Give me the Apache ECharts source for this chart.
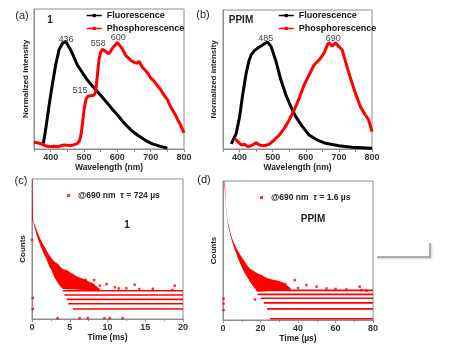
<!DOCTYPE html>
<html>
<head>
<meta charset="utf-8">
<script src="https://cdn.jsdelivr.net/npm/echarts@6/dist/echarts.min.js"></script>
<style>
  html, body { margin: 0; padding: 0; background: #fff; }
  #chart { width: 450px; height: 348px; }
</style>
</head>
<body>
<div id="chart"></div>
<script>
// (a) complex 1: [wavelength nm, normalized intensity]
const fluoA = [[378,0.05],[385,0.18],[395,0.4],[405,0.6],[415,0.78],[425,0.92],[435,0.98],[445,1.0],[450,0.99],[460,0.92],[470,0.85],[480,0.78],[495,0.71],[510,0.64],[525,0.585],[540,0.534],[555,0.48],[570,0.426],[585,0.37],[600,0.318],[615,0.26],[630,0.21],[645,0.165],[660,0.13],[675,0.1],[690,0.07],[705,0.048],[720,0.033],[735,0.02],[750,0.01]];
const phosA = [[350,0.062],[360,0.058],[370,0.05],[380,0.035],[390,0.025],[400,0.022],[410,0.026],[420,0.021],[430,0.03],[440,0.038],[450,0.034],[460,0.033],[470,0.04],[480,0.05],[487,0.08],[492,0.15],[497,0.28],[502,0.4],[507,0.47],[512,0.49],[520,0.495],[530,0.5],[535,0.53],[540,0.68],[545,0.83],[550,0.9],[555,0.925],[560,0.92],[565,0.905],[570,0.89],[575,0.885],[580,0.91],[585,0.935],[590,0.95],[595,0.97],[600,0.99],[605,0.975],[610,0.95],[615,0.93],[620,0.9],[625,0.87],[630,0.855],[640,0.825],[650,0.805],[660,0.795],[665,0.815],[670,0.8],[675,0.76],[680,0.745],[690,0.71],[700,0.66],[710,0.63],[720,0.59],[730,0.55],[740,0.5],[750,0.46],[760,0.39],[770,0.34],[780,0.28],[790,0.22],[800,0.15]];
const peaksA = [['436',446,1.021],['515',488,0.539],['558',543,0.981],['600',603,1.031]];

// (b) PPIM
const fluoB = [[375,0.047],[380,0.05],[390,0.147],[400,0.3],[410,0.52],[420,0.71],[428,0.82],[435,0.88],[445,0.92],[460,0.955],[475,0.985],[485,1.0],[495,0.96],[510,0.82],[525,0.645],[540,0.505],[555,0.396],[570,0.3],[590,0.209],[610,0.131],[635,0.084],[660,0.053],[700,0.031],[740,0.016],[800,0.006]];
const phosB = [[385,0.1],[395,0.069],[405,0.037],[415,0.045],[425,0.022],[435,0.03],[450,0.059],[460,0.037],[475,0.03],[490,0.045],[505,0.084],[520,0.131],[535,0.193],[550,0.271],[565,0.365],[580,0.474],[595,0.599],[610,0.692],[625,0.786],[640,0.832],[655,0.895],[665,0.973],[670,0.994],[680,0.96],[690,0.994],[700,0.957],[710,0.926],[720,0.817],[735,0.661],[750,0.52],[765,0.396],[780,0.318],[790,0.271],[800,0.162]];
const peaksB = [['485',479,1.035],['690',683,1.035]];

// (c) decay of 1, time in ms, counts in % of full scale
const cloudUpC = [[0,100],[0.05,100],[0.1,82],[0.13,71.3],[0.35,67.5],[0.58,64.1],[0.8,61],[1.02,58.2],[1.25,55.8],[1.46,53.5],[1.7,51.3],[1.91,49.2],[2.15,47],[2.35,45.1],[2.6,43.5],[2.79,42],[3.1,40.5],[3.45,39.2],[3.8,37],[4.11,35.6],[4.45,35.2],[4.78,34.4],[5.1,33],[5.44,32.1],[5.9,30.5],[6.33,29.7],[6.8,28.5],[7.22,27.8],[7.6,26.5],[8.1,25.5],[8.5,23.5],[9,21.5]];
const cloudLoC = [[0,70],[0.13,70.1],[0.35,65],[0.58,60.6],[0.8,57],[1.02,53.5],[1.25,50.5],[1.46,47.5],[1.7,45],[1.91,42.8],[2.15,39.5],[2.35,36.8],[2.57,34.9],[2.79,32.1],[3.0,29.5],[3.24,27.3],[3.45,25.5],[3.67,23.8],[3.9,22.5],[4.11,21.4],[9,20.2]];
const bandLevelC = [20.2, 17.1, 14.0, 10.9, 7.1];
const bandStartC = [4.1, 4.3, 4.6, 4.8, 5.4];
const dotsC = [[0,56.5],[0.1,15],[0.1,7.1],[7.09,28],[8.23,27.8],[8.98,23.8],[9.87,24.9],[10.97,22.6],[11.5,21.8],[12.5,21.9],[13.6,24.5],[14.2,21.4],[16,21.6],[18.6,20.8],[18.9,23.8],[3.4,0.6],[6.3,0.6],[7.4,0.6],[9.6,0.6],[10.3,0.6],[12,0.6]];

// (d) decay of PPIM, time in µs
const cloudUpD = [[0.8,100],[1.06,99.3],[1.3,90],[1.6,81.3],[2.2,74],[2.8,69.4],[3.7,64],[4.6,59.8],[5.5,56.5],[6.4,53.8],[7.3,51.3],[8.2,49.1],[9.9,45.5],[11.7,41.9],[13,39],[14.4,37.1],[15.7,35.8],[17,34.7],[18.8,33.3],[20.6,32.3],[22.3,31],[24.1,29.9],[26.8,29],[29.5,28.3],[32,27],[34,25],[36,23]];
const cloudLoD = [[0.8,97],[1.2,88],[1.8,77],[2.8,67],[3.7,62],[4.6,57.4],[6.4,50],[8.2,43.5],[10,38],[11.7,33.5],[13,30.5],[14.4,27.5],[15.7,25],[17,22.7],[18.8,20.4],[25,21],[36,21]];
const bandLevelD = [21.3, 18.4, 15.6, 12.3, 8.0, 0.9];
const bandStartD = [17.5, 18.5, 20, 21.8, 23.5, 25];
const dotsD = [[0.3,15.4],[0.3,11.8],[0.3,7.2],[17,14.8],[33,26],[38.3,28.7],[40,23],[44.5,25.1],[49.9,24],[55.2,22.7],[60,22.4],[65.8,22],[72.9,24],[73.8,21.5],[76.5,21.1]];

const nameC = '@690 nm  τ = 724 µs';
const nameD = '@690 nm  τ = 1.6 µs';

const RED = '#ff0000';
const FRAME = '#8c8c8c';
const FONT = 'Liberation Sans, Arial, sans-serif';

const chart = echarts.init(document.getElementById('chart'));

const gridBox = { show: true, borderColor: FRAME, borderWidth: 1, backgroundColor: 'transparent' };

function xAx(i, min, max, interval, name, gap, hide100) {
  return {
    type: 'value', gridIndex: i, min, max, interval,
    name, nameLocation: 'middle', nameGap: gap,
    nameTextStyle: { fontFamily: FONT, fontSize: 8.5, fontWeight: 'bold', color: '#222' },
    axisLine: { lineStyle: { color: FRAME } },
    axisTick: { show: true, inside: false, length: 3, lineStyle: { color: FRAME } },
    minorTick: { show: !hide100, splitNumber: 2, length: 2, lineStyle: { color: FRAME } },
    axisLabel: {
      margin: 4, fontFamily: FONT, fontSize: 9, fontWeight: 'bold', color: '#333',
      formatter: v => (hide100 && v % 100 !== 0) ? '' : String(v)
    },
    splitLine: { show: false }
  };
}

function yAx(i, max, name, gap) {
  return {
    type: 'value', gridIndex: i, min: 0, max,
    name, nameLocation: 'middle', nameGap: gap,
    nameTextStyle: { fontFamily: FONT, fontSize: 8, fontWeight: 'bold', color: '#222' },
    axisLine: { show: true, lineStyle: { color: FRAME } },
    axisTick: { show: false },
    axisLabel: { show: false },
    splitLine: { show: false }
  };
}

function spectrum(name, data, color, i, peaks) {
  return {
    name, type: 'line', xAxisIndex: i, yAxisIndex: i,
    data, symbol: 'rect', symbolSize: 4, showSymbol: false,
    lineStyle: { color, width: 3 }, itemStyle: { color },
    silent: true, animation: false,
    markPoint: peaks ? {
      symbol: 'rect', symbolSize: 1, itemStyle: { color: 'rgba(0,0,0,0)' },
      label: { show: true, position: 'inside', fontFamily: FONT, fontSize: 9, color: '#444' },
      data: peaks.map(p => ({ coord: [p[1], p[2]], value: p[0] }))
    } : undefined
  };
}

function cloud(upper, lower, i) {
  const poly = upper.concat(lower.slice().reverse());
  return {
    type: 'custom', xAxisIndex: i, yAxisIndex: i, silent: true, clip: true,
    data: [upper[0]],
    renderItem: (params, api) => ({
      type: 'polygon',
      shape: { points: poly.map(p => api.coord(p)) },
      style: { fill: RED }
    })
  };
}

function bands(levels, starts, end, i) {
  return levels.map((v, k) => ({
    type: 'line', xAxisIndex: i, yAxisIndex: i, silent: true, symbol: 'none',
    data: [[starts[k], v], [end, v]],
    lineStyle: { color: RED, width: 1.6 }
  }));
}

function dots(name, data, i) {
  return {
    name, type: 'scatter', xAxisIndex: i, yAxisIndex: i, silent: true,
    data, symbol: 'rect', symbolSize: 2.5, itemStyle: { color: RED }
  };
}

const legendText = { fontFamily: FONT, fontSize: 9, fontWeight: 'bold', color: '#111' };
const tauText = {
  fontFamily: FONT, fontSize: 8.5, fontWeight: 'bold', color: '#222', padding: [0, 0, 0, 3],
  rich: { i: { fontFamily: FONT, fontSize: 9, fontStyle: 'italic', color: '#222' } }
};

function label(text, x, y, size, bold) {
  return {
    type: 'text', x, y, silent: true,
    style: { text, fontFamily: FONT, fontSize: size, fontWeight: bold ? 'bold' : 'normal',
             fill: '#222', align: 'center', verticalAlign: 'middle' }
  };
}

const lineLegend = {
  orient: 'vertical', top: 11, itemGap: 4, itemWidth: 15, itemHeight: 4, padding: 0,
  lineStyle: { width: 1.5 }, selectedMode: false,
  data: ['Fluorescence', 'Phosphorescence'], textStyle: legendText
};

chart.setOption({
  backgroundColor: '#fff',
  animation: false,
  grid: [
    Object.assign({ left: 34, top: 9, width: 150, height: 140 }, gridBox),
    Object.assign({ left: 223, top: 10, width: 149, height: 139 }, gridBox),
    Object.assign({ left: 32, top: 179, width: 151, height: 140 }, gridBox),
    Object.assign({ left: 223, top: 181, width: 150, height: 139 }, gridBox)
  ],
  xAxis: [
    xAx(0, 350, 800, 50, 'Wavelength (nm)', 14, true),
    xAx(1, 350, 800, 50, 'Wavelength (nm)', 14, true),
    xAx(2, 0, 20, 5, 'Time (ms)', 13, false),
    xAx(3, 0, 80, 20, 'Time (µs)', 14, false)
  ],
  yAxis: [
    yAx(0, 1.3, 'Normalized intensity', 4),
    yAx(1, 1.3, 'Normalized intensity', 5),
    yAx(2, 100, 'Counts', 5),
    yAx(3, 100, 'Counts', 5)
  ],
  legend: [
    Object.assign({ left: 86 }, lineLegend),
    Object.assign({ left: 278 }, lineLegend),
    { left: 67, top: 191, padding: 0, icon: 'rect', itemWidth: 3, itemHeight: 3, data: [nameC],
      textStyle: tauText, selectedMode: false, formatter: n => n.replace('τ', '{i|τ}') },
    { left: 260, top: 193, padding: 0, icon: 'rect', itemWidth: 3, itemHeight: 3, data: [nameD],
      textStyle: tauText, selectedMode: false, formatter: n => n.replace('τ', '{i|τ}') }
  ],
  graphic: [
    label('(a)', 22, 16, 11, false),
    label('(b)', 203, 15, 11, false),
    label('(c)', 21, 181, 11, false),
    label('(d)', 204, 180, 11, false),
    label('1', 50, 20, 10, true),
    label('PPIM', 241, 20, 10, true),
    label('1', 127, 225, 10, true),
    label('PPIM', 313, 219.5, 10, true),
    {
      type: 'polyline', silent: true,
      shape: { points: [[377, 257], [430, 257], [430, 243]] },
      style: { stroke: '#9a9a9a', lineWidth: 1.5, fill: null,
               shadowBlur: 2, shadowColor: 'rgba(0,0,0,0.25)', shadowOffsetX: 1, shadowOffsetY: 1 }
    }
  ],
  series: [
    spectrum('Fluorescence', fluoA, '#000', 0, peaksA.filter(p => p[0] === '436')),
    spectrum('Phosphorescence', phosA, RED, 0, peaksA.filter(p => p[0] !== '436')),
    spectrum('Fluorescence', fluoB, '#000', 1, peaksB.filter(p => p[0] === '485')),
    spectrum('Phosphorescence', phosB, RED, 1, peaksB.filter(p => p[0] === '690')),
    cloud(cloudUpC, cloudLoC, 2),
    ...bands(bandLevelC, bandStartC, 20, 2),
    dots(nameC, dotsC, 2),
    cloud(cloudUpD, cloudLoD, 3),
    ...bands(bandLevelD, bandStartD, 80, 3),
    dots(nameD, dotsD, 3)
  ]
});
</script>
</body>
</html>
